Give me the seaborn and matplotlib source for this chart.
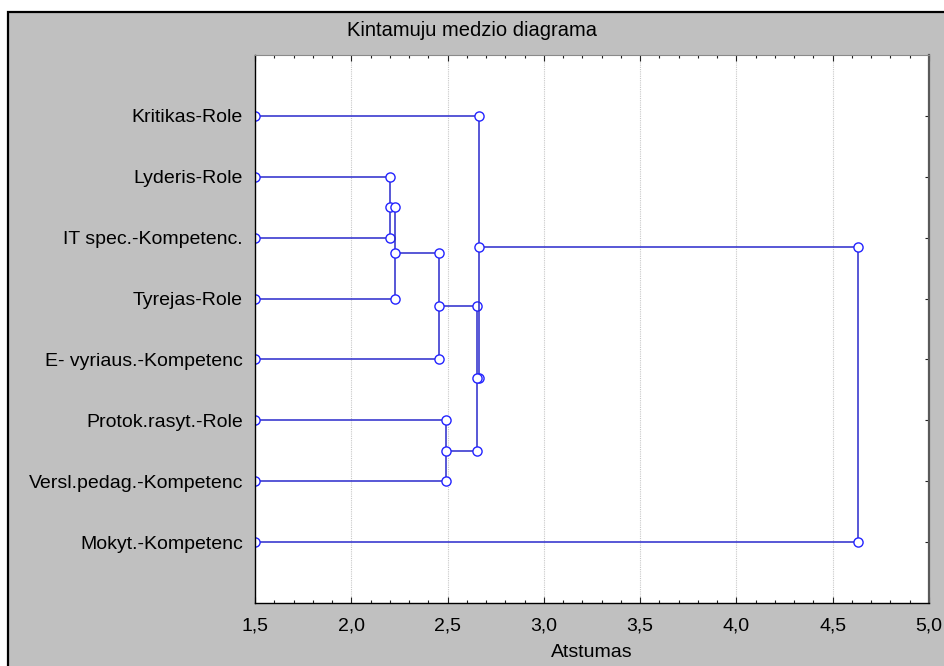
import matplotlib
matplotlib.use("Agg")
import matplotlib.pyplot as plt
from matplotlib.patches import Rectangle
from matplotlib.ticker import MultipleLocator, FixedLocator, FixedFormatter
import numpy as np
import pandas as pd
import seaborn as sns

# Variables in the order they appear down the tree
labels = [
    "Kritikas-Role",
    "Lyderis-Role",
    "IT spec.-Kompetenc.",
    "Tyrejas-Role",
    "E- vyriaus.-Kompetenc",
    "Protok.rasyt.-Role",
    "Versl.pedag.-Kompetenc",
    "Mokyt.-Kompetenc",
]

# Linkage steps: ids 0..7 are variables, 8.. are the clusters formed in turn
merge_left = [1, 8, 9, 5, 10, 0, 13]
merge_right = [2, 3, 4, 6, 11, 12, 7]
merge_dist = [2.20, 2.225, 2.454, 2.490, 2.655, 2.662, 4.630]

x_ticks = [1.5, 2.0, 2.5, 3.0, 3.5, 4.0, 4.5, 5.0]
x_tick_labels = ["1,5", "2,0", "2,5", "3,0", "3,5", "4,0", "4,5", "5,0"]
x_start = x_ticks[0]

title = "Kintamuju medzio diagrama"
x_title = "Atstumas"

# ---- node positions and bracket polylines ----
n = len(labels)
node_x = {i: x_start for i in range(n)}
node_y = {i: float(i + 1) for i in range(n)}
rows = []
for k, (a, b, d) in enumerate(zip(merge_left, merge_right, merge_dist)):
    pts = [(node_x[a], node_y[a]), (d, node_y[a]), (d, node_y[b]), (node_x[b], node_y[b])]
    for order, (px, py) in enumerate(pts):
        rows.append({"link": k, "order": order, "x": px, "y": py})
    node_x[n + k] = d
    node_y[n + k] = (node_y[a] + node_y[b]) / 2.0
links = pd.DataFrame(rows)

# ---- figure ----
sns.set_style("white")
plt.rcParams["font.family"] = ["Liberation Sans", "DejaVu Sans"]
plt.rcParams["text.color"] = "black"
plt.rcParams["axes.labelcolor"] = "black"

W, H = 944, 666
fig = plt.figure(figsize=(W / 100, H / 100), dpi=100)
fig.patch.set_facecolor("white")

# grey panel with black frame on its top and left side
frame = Rectangle((8 / W, -0.1), 1.2, (H - 12) / H + 0.1, transform=fig.transFigure,
                  facecolor="#c0c0c0", edgecolor="black", linewidth=1.6, zorder=0)
fig.add_artist(frame)

ax = fig.add_axes([255 / W, (H - 603) / H, 674 / W, 548 / H])
ax.set_facecolor("white")

line_col = "#2a2acc"
sns.lineplot(
    data=links, x="x", y="y", units="link", estimator=None, sort=False,
    color=line_col, linewidth=1.1, marker="o", markersize=6.6,
    markerfacecolor="white", markeredgecolor="#2323ff", markeredgewidth=1.0,
    legend=False, ax=ax,
)

ax.set_xlim(x_ticks[0], x_ticks[-1])
ax.set_ylim(n + 1, 0)

ax.xaxis.set_major_locator(FixedLocator(x_ticks))
ax.xaxis.set_major_formatter(FixedFormatter(x_tick_labels))
ax.xaxis.set_minor_locator(MultipleLocator(0.1))
ax.set_yticks(np.arange(1, n + 1))
ax.set_yticklabels(labels)

for gx in x_ticks[1:-1]:
    ax.axvline(gx, color="#c8c8c8", linestyle=(0, (1, 1)), linewidth=0.8, zorder=0.5)

ax.tick_params(axis="x", which="major", direction="in", top=True, bottom=True,
               length=4, width=0.8, color="#222222", labelsize=14, pad=10.5,
               labelcolor="black")
ax.tick_params(axis="x", which="minor", direction="in", top=True, bottom=True,
               length=2.5, width=0.8, color="#222222")
ax.tick_params(axis="y", which="major", direction="in", left=True, right=True,
               length=3, width=0.8, color="#222222", labelsize=14, pad=8.6,
               labelcolor="black")

ax.spines["left"].set_color("black")
ax.spines["bottom"].set_color("black")
ax.spines["left"].set_linewidth(1.0)
ax.spines["bottom"].set_linewidth(1.0)
ax.spines["top"].set_color("#8a8a8a")
ax.spines["top"].set_linewidth(0.8)
ax.spines["right"].set_color("#5a5a5a")
ax.spines["right"].set_linewidth(1.6)

ax.set_xlabel(x_title, fontsize=14, labelpad=7, color="black")
ax.set_ylabel("")

fig.text(0.5, (H - 30) / H, title, ha="center", va="center", fontsize=14.5,
         color="black")

fig.savefig("out.png", dpi=100, facecolor=fig.get_facecolor())
